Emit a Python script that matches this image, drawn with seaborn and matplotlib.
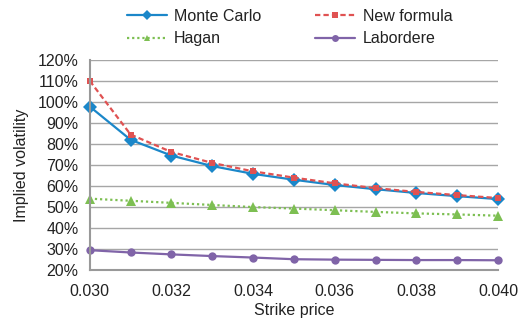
import matplotlib
matplotlib.use('Agg')
import matplotlib.pyplot as plt
import seaborn as sns
from matplotlib.ticker import PercentFormatter

strikes = [0.030, 0.031, 0.032, 0.033, 0.034, 0.035, 0.036, 0.037, 0.038, 0.039, 0.040]
monte_carlo = [0.978, 0.820, 0.745, 0.695, 0.658, 0.630, 0.605, 0.585, 0.567, 0.552, 0.538]
new_formula = [1.100, 0.845, 0.762, 0.710, 0.670, 0.640, 0.613, 0.590, 0.572, 0.557, 0.543]
hagan = [0.540, 0.530, 0.520, 0.510, 0.500, 0.493, 0.485, 0.477, 0.470, 0.465, 0.459]
labordere = [0.295, 0.284, 0.275, 0.267, 0.260, 0.252, 0.250, 0.249, 0.248, 0.248, 0.247]

# legend fills column by column: Monte Carlo / Hagan | New formula / Labordere
models = ['Monte Carlo', 'Hagan', 'New formula', 'Labordere']
series = [monte_carlo, hagan, new_formula, labordere]
colors = ['#1b87c9', '#7dbf52', '#e05252', '#8064a8']
markers = ['D', '^', 's', 'o']
msizes = [7.5, 7, 5, 6]
styles = ['-', (0, (1, 1.3)), (0, (2.4, 1.4)), '-']

sns.set_style('white')
plt.rcParams['font.family'] = ['Liberation Sans', 'DejaVu Sans']
plt.rcParams['font.size'] = 11.5

fig = plt.figure(figsize=(5.22, 3.22), dpi=100)
ax = fig.add_axes([0.172, 0.161, 0.782, 0.653])

for m, s, c, mk, ms, ls in zip(models, series, colors, markers, msizes, styles):
    sns.lineplot(x=strikes, y=s, color=c, marker=mk, markersize=ms,
                 markeredgewidth=0, linestyle=ls, linewidth=1.6,
                 clip_on=False, label=m, ax=ax)

ax.set_xlim(0.030, 0.040)
ax.set_ylim(0.2, 1.2)
ax.set_xticks([0.030, 0.032, 0.034, 0.036, 0.038, 0.040])
ax.set_xticklabels(['0.030', '0.032', '0.034', '0.036', '0.038', '0.040'])
ax.set_yticks([0.2 + 0.1 * i for i in range(11)])
ax.yaxis.set_major_formatter(PercentFormatter(1.0, decimals=0))
ax.grid(axis='y', color='#a6a6a6', linewidth=1)
ax.set_axisbelow(True)
for side in ['top', 'right']:
    ax.spines[side].set_visible(False)
for side in ['left', 'bottom']:
    ax.spines[side].set_color('#999999')
    ax.spines[side].set_linewidth(1.5)
ax.tick_params(length=0, labelsize=11.5, colors='#222222', pad=8)
ax.tick_params(axis='x', pad=10)
ax.set_xlabel('Strike price', fontsize=11.5, color='#222222', labelpad=3)
ax.set_ylabel('Implied volatility', fontsize=11.5, color='#222222', labelpad=6)

leg = ax.legend(loc='center', bbox_to_anchor=(0.5546, 0.9146),
                bbox_transform=fig.transFigure, ncol=2, frameon=False,
                fontsize=11.5, columnspacing=3.4, handlelength=2.5,
                handletextpad=0.45, labelspacing=0.5, borderpad=0)
for h in leg.legend_handles:
    h.set_markersize(5)
for t in leg.get_texts():
    t.set_color('#222222')

fig.savefig('out.png', dpi=100)
